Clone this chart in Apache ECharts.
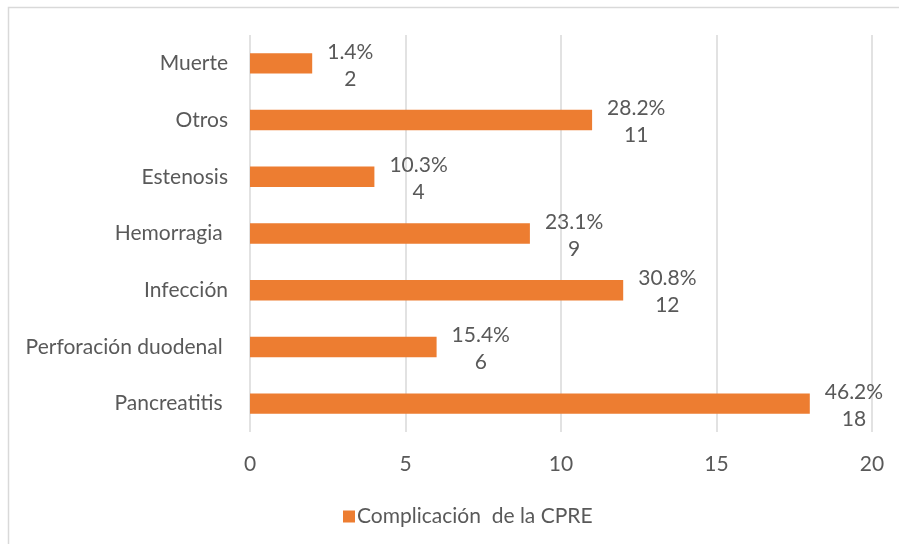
<!DOCTYPE html>
<html>
<head>
<meta charset="utf-8">
<script src="https://cdn.jsdelivr.net/npm/echarts@6/dist/echarts.min.js"></script>
<style>
html,body{margin:0;padding:0;background:#fff;}
#chart{width:899px;height:544px;}
</style>
</head>
<body>
<div id="chart"></div>
<script>
var categories = ['Pancreatitis ', 'Perforación duodenal ', 'Infección', 'Hemorragia ', 'Estenosis', 'Otros', 'Muerte'];
var values = [18, 6, 12, 9, 4, 11, 2];
var percents = ['46.2%', '15.4%', '30.8%', '23.1%', '10.3%', '28.2%', '1.4%'];
var xTicks = [0, 5, 10, 15, 20];
var seriesName = 'Complicación  de la CPRE';

var FONT = 'Lato';
var FS = 21;
var TXT = '#595959';

var cv = document.createElement('canvas').getContext('2d');
cv.font = FS + 'px ' + FONT;
function tw(s){ return cv.measureText(s).width; }

var data = values.map(function(v, i){
  var w = Math.max(tw(percents[i]), tw(String(v)));
  return { value: v, label: { distance: 15 + w / 2 } };
});

var chart = echarts.init(document.getElementById('chart'));
chart.setOption({
  backgroundColor: '#fff',
  textStyle: { fontFamily: FONT },
  graphic: [{
    type: 'rect', silent: true,
    shape: { x: 8.5, y: 7.5, width: 1000, height: 1000 },
    style: { fill: 'none', stroke: '#d9d9d9', lineWidth: 1.5 }
  }],
  grid: { left: 250, right: 27, top: 35, bottom: 112, containLabel: false },
  xAxis: {
    type: 'value', min: xTicks[0], max: xTicks[xTicks.length - 1], interval: 5,
    axisLine: { show: false }, axisTick: { show: false },
    axisLabel: { color: TXT, fontSize: FS, fontFamily: FONT, margin: 22 },
    splitLine: { show: true, lineStyle: { color: '#d9d9d9', width: 1.5 } }
  },
  yAxis: {
    type: 'category', data: categories,
    axisLine: { show: false }, axisTick: { show: false },
    axisLabel: { color: TXT, fontSize: FS, fontFamily: FONT, margin: 22 }
  },
  legend: {
    show: true, left: 338, top: 501,
    itemWidth: 12, itemHeight: 12, itemGap: 10,
    icon: 'rect',
    textStyle: { color: TXT, fontSize: FS, fontFamily: FONT, padding: [0,0,0,-3] },
    data: [seriesName]
  },
  series: [{
    name: seriesName, type: 'bar', data: data,
    barCategoryGap: '64%',
    itemStyle: { color: '#ED7D31' },
    label: {
      show: true, position: 'right', align: 'center', verticalAlign: 'middle',
      color: TXT, fontSize: FS, fontFamily: FONT, lineHeight: 27, offset: [0, 2],
      formatter: function(p){ return percents[p.dataIndex] + '\n' + p.value; }
    },
    animation: false
  }],
  animation: false
});
</script>
</body>
</html>
